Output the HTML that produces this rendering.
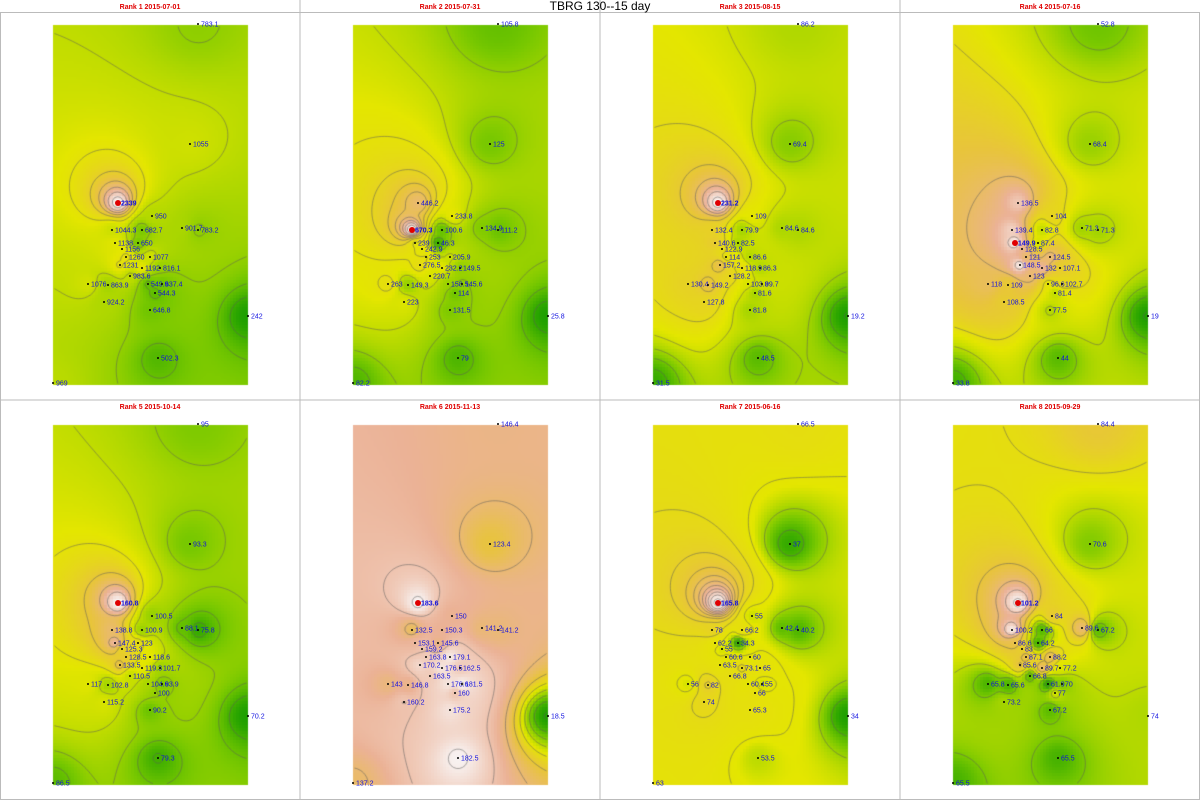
<!DOCTYPE html>
<html><head><meta charset="utf-8"><style>
html,body{margin:0;padding:0;background:#fff;}
#wrap{position:relative;width:1200px;height:800px;overflow:hidden;font-family:"Liberation Sans",sans-serif;}
canvas,svg{position:absolute;left:0;top:0;}
</style></head><body>
<div id="wrap">
<canvas id="cv" width="1200" height="800"></canvas>
<svg id="sv" width="1200" height="800"></svg>
</div>
<script>
// panel titles
const titles=["Rank 1 2015-07-01","Rank 2 2015-07-31","Rank 3 2015-08-15","Rank 4 2015-07-16","Rank 5 2015-10-14","Rank 6 2015-11-13","Rank 7 2015-06-16","Rank 8 2015-09-29"];
// station positions within panel (x px, y px)
const stX=[198,190,118,152,112,142,182,198,115,138,122,126,150,120,142,160,130,88,108,148,162,155,104,150,248,158,53];
const stY=[24,144,203,216,230,230,228,230,243,243,249,257,257,265,268,268,276,284,285,284,284,293,302,310,316,358,383];
// values per panel
const v1=[783.1,1055,2339,950,1044.3,682.7,901.7,783.2,1138,650,1156,1260,1077,1231,1192,816.1,983.6,1076,863.9,549.9,637.4,544.3,924.2,646.8,242,502.3,969];
const v2=[105.8,125,446.2,233.8,670.3,100.6,134.9,111.2,239,46.3,242.9,253,205.9,276.5,232.2,149.5,220.7,263,149.3,158.5,145.6,114,223,131.5,25.8,79,82.2];
const v3=[86.2,69.4,231.2,109,132.4,79.9,84.6,84.6,140.6,82.5,122.9,114,86.6,157.2,118.9,86.3,128.2,130.4,149.2,103.8,99.7,81.6,127.8,81.8,19.2,48.5,31.5];
const v4=[52.8,68.4,136.5,104,139.4,82.8,71.3,71.3,149.9,87.4,128.5,121,124.5,148.5,132,107.1,123,118,109,96.6,102.7,81.4,108.5,77.5,19,44,33.8];
const v5=[95,93.3,160.8,100.5,138.8,100.9,88.1,75.8,147.4,123,125.3,128.5,118.6,133.5,119.3,101.7,110.5,117,102.8,104.6,93.9,100,115.2,90.2,70.2,79.3,86.5];
const v6=[146.4,123.4,183.6,150,132.5,150.3,141.2,141.2,153.1,145.6,159.2,163.8,179.1,170.2,176.5,162.5,163.5,143,146.8,176.6,181.5,160,160.2,175.2,18.5,182.5,137.2];
const v7=[66.5,37,165.8,55,78,66.2,42.4,40.2,62.2,34.3,55,60.6,60,63.5,73.1,65,66.8,56,82,60.4,55,66,74,65.3,34,53.5,63];
const v8=[84.4,70.6,101.2,84,100.2,66,89.6,67.2,86.6,64.2,83,87.1,88.2,85.6,89.7,77.2,66.8,65.8,65.6,61.9,70,77,73.2,67.2,74,65.5,65.5];
const vals=[v1,v2,v3,v4,v5,v6,v7,v8];
// value mapped to yellow in each panel's colour scale
const mids=[1150,230,108,95,118,95,58,78];
// contour interval per panel
const steps=[200,50,20,20,10,20,10,5];

const PX0=53,PY0=25,PW=193,PH=360;
const stops=[[0,[30,160,0]],[0.22,[120,200,0]],[0.45,[228,230,0]],[0.62,[232,196,60]],[0.8,[235,178,150]],[1,[248,244,244]]];
function cmap(t){t=Math.max(0,Math.min(1,t));for(let i=1;i<stops.length;i++){if(t<=stops[i][0]){const a=stops[i-1],b=stops[i];const f=(t-a[0])/(b[0]-a[0]);return a[1].map((c,k)=>Math.round(c+(b[1][k]-c)*f));}}return stops[stops.length-1][1];}

const ctx=document.getElementById('cv').getContext('2d');
const sv=document.getElementById('sv');
const NS='http://www.w3.org/2000/svg';
function mk(tag,attrs,parent){const e=document.createElementNS(NS,tag);for(const k in attrs)e.setAttribute(k,attrs[k]);(parent||sv).appendChild(e);return e;}

ctx.fillStyle='#fff';ctx.fillRect(0,0,1200,800);
for(let p=0;p<8;p++){
  const ox=(p%4)*300, oy=Math.floor(p/4)*400;
  const v=vals[p];const mn=Math.min(...v),mx=Math.max(...v),md=mids[p];
  const cs=3,nx=Math.ceil(PW/cs),ny=Math.ceil(PH/cs);
  const grid=[];
  for(let j=0;j<ny;j++){const row=[];for(let i=0;i<nx;i++){
    const gx=PX0+i*cs+cs/2, gy=PY0+j*cs+cs/2;let sw=0,s=0;
    for(let k=0;k<v.length;k++){const dx=gx-stX[k],dy=gy-stY[k];const d2=dx*dx+dy*dy+4;const w=1/Math.pow(d2,1.2);sw+=w;s+=w*v[k];}
    const val=s/sw;row.push(val);
    const t=val<md?0.45*(val-mn)/(md-mn):0.45+0.55*(val-md)/(mx-md);
    const c=cmap(t);
    ctx.fillStyle='rgb('+c.join(',')+')';ctx.fillRect(ox+PX0+i*cs,oy+PY0+j*cs,cs,cs);
  }grid.push(row);}
  // contours (marching squares)
  ctx.strokeStyle='rgba(90,90,90,0.75)';ctx.lineWidth=0.7;ctx.beginPath();
  const st=steps[p];
  for(let L=Math.ceil(mn/st)*st;L<mx;L+=st){
    for(let j=0;j<ny-1;j++)for(let i=0;i<nx-1;i++){
      const a=grid[j][i],b=grid[j][i+1],c=grid[j+1][i+1],d=grid[j+1][i];
      const pts=[];
      const X=(ii)=>ox+PX0+ii*cs+cs/2,Y=(jj)=>oy+PY0+jj*cs+cs/2;
      if((a<L)!==(b<L))pts.push([X(i+(L-a)/(b-a)),Y(j)]);
      if((b<L)!==(c<L))pts.push([X(i+1),Y(j+(L-b)/(c-b))]);
      if((d<L)!==(c<L))pts.push([X(i+(L-d)/(c-d)),Y(j+1)]);
      if((a<L)!==(d<L))pts.push([X(i),Y(j+(L-a)/(d-a))]);
      if(pts.length>=2){ctx.moveTo(pts[0][0],pts[0][1]);ctx.lineTo(pts[1][0],pts[1][1]);}
      if(pts.length===4){ctx.moveTo(pts[2][0],pts[2][1]);ctx.lineTo(pts[3][0],pts[3][1]);}
    }
  }
  ctx.stroke();
  const g=mk('g',{});
  
  
  const t=mk('text',{x:ox+150,y:oy+9,'text-anchor':'middle','font-size':'7','font-weight':'bold',fill:'#e00000'},g);
  t.textContent=titles[p];
  
  
  const imax=v.indexOf(mx);
  for(let i=0;i<v.length;i++){
    const cx=ox+stX[i],cy=oy+stY[i];
    const isMax=i===imax;
    const dot=mk('circle',{cx:cx,cy:cy,r:isMax?3:1,fill:isMax?'#e00000':'#000'},g);
    
    
    const lb=mk('text',{x:cx+3,y:cy+2.5,'font-size':'7',fill:'#1010e0','font-weight':isMax?'bold':'normal'},g);
    lb.textContent=v[i];
    
    
  }
}
// panel separators
for(const x of [300,600,900]){const l=mk('line',{x1:x,y1:0,x2:x,y2:800,stroke:'#bbb','stroke-width':1});

}
const hl=mk('line',{x1:0,y1:400,x2:1200,y2:400,stroke:'#bbb','stroke-width':1});


const br=mk('rect',{x:0.5,y:12.5,width:1199,height:787,fill:'none',stroke:'#bbb'});


const mt=mk('text',{x:600,y:10,'text-anchor':'middle','font-size':'12',fill:'#000'});
mt.textContent='TBRG 130--15 day';


</script>
</body></html>
